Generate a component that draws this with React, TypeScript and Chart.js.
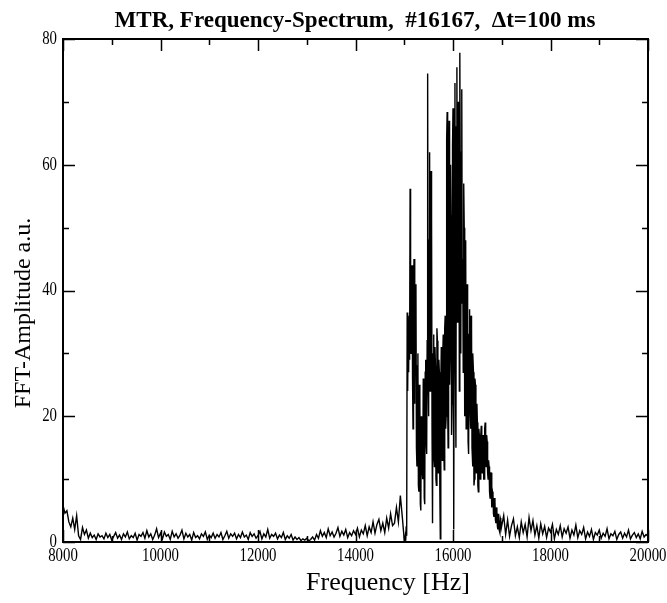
import React, { useEffect, useRef } from "react";
import { Chart, registerables } from "chart.js";

Chart.register(...registerables);

// ---- data ----
const titleText = "MTR, Frequency-Spectrum,  #16167,  \u0394t=100 ms";
const xTitle = "Frequency [Hz]";
const yTitle = "FFT-Amplitude a.u.";

const xMin = 8000;
const xMax = 20000;
const yMin = 0;
const yMax = 80;
const xTickStep = 1000;
const xLabelStep = 2000;
const yTickStep = 10;
const yLabelStep = 20;

// background, 8000 .. 14960 Hz, every 40 Hz
const lowStartHz = 8000;
const lowStepHz = 40;
const ampLow = [
  5.8, 4.6, 5.0, 3.2, 2.4, 3.8, 2.0, 4.2, 1.0, 0.4,
  2.3, 1.2, 1.9, 0.6, 1.4, 0.7, 1.1, 0.4, 1.3, 0.8,
  1.0, 0.5, 1.4, 0.7, 1.2, 0.3, 0.9, 1.5, 0.6, 1.1,
  0.4, 1.3, 0.8, 1.6, 0.5, 1.0, 0.7, 1.4, 0.3, 1.2,
  0.9, 1.5, 0.6, 1.8, 0.8, 1.3, 0.4, 1.1, 2.1, 0.7,
  1.4, 0.5, 1.6, 0.9, 1.2, 0.4, 1.7, 0.8, 1.3, 0.6,
  1.1, 1.9, 0.5, 1.4, 0.8, 1.2, 0.3, 1.5, 0.7, 1.0,
  0.5, 1.3, 0.9, 1.6, 0.4, 1.1, 0.7, 1.4, 0.6, 1.2,
  0.8, 1.5, 0.4, 1.0, 1.7, 0.6, 1.3, 0.9, 1.4, 0.5,
  1.2, 0.7, 1.6, 0.8, 1.1, 0.4, 1.5, 0.9, 1.3, 0.6,
  1.0, 1.7, 0.5, 1.3, 0.8, 2.0, 0.6, 1.2, 0.9, 1.4,
  0.5, 1.1, 0.7, 1.5, 0.4, 1.0, 0.6, 1.2, 0.3, 0.8,
  0.4, 0.7, 0.2, 0.5, 0.3, 0.6, 0.2, 0.4, 0.8, 0.3,
  1.2, 0.6, 1.8, 0.9, 1.5, 0.7, 2.1, 1.0, 1.6, 0.8,
  1.4, 2.3, 0.9, 1.7, 1.1, 2.0, 0.7, 1.5, 1.0, 1.8,
  1.2, 2.2, 0.8, 1.9, 1.3, 2.6, 1.0, 2.4, 1.5, 3.2,
  1.4, 2.8, 3.6, 1.8, 3.0, 1.5, 3.8, 2.2, 4.5, 2.6,
  3.0, 5.5, 3.2, 7.4, 4.0,
];

// main mode, 15000 .. 16990 Hz, every 10 Hz
const peakStartHz = 15000;
const peakStepHz = 10;
const ampPeak = [
  0.3, 0.1, 0.8, 0.2, 2.5, 1.0, 36.5, 24, 33, 27,
  36, 29, 56.2, 35, 30, 42, 44, 26, 18, 38,
  45, 22, 25, 41, 40, 15, 12, 28, 30, 9,
  8, 25, 22, 6, 5, 20, 19, 11, 10, 26,
  24, 7, 6, 27, 29, 16, 14, 32, 74.5, 26,
  20, 48, 62, 24, 28, 59, 52, 18, 3, 30,
  33, 14, 12, 31, 28, 10, 9, 34, 32, 16,
  11, 29, 27, 8, 0.5, 25, 31, 19, 13, 30,
  33, 15, 11.5, 34, 36, 18, 20, 64, 68.4, 22,
  15, 55, 67, 25, 30, 60, 52, 17, 22, 63,
  69, 20, 2, 58, 73, 28, 15, 66, 75.5, 35,
  40, 70, 66, 24, 77.8, 55, 30, 62, 72, 38,
  45, 27, 57, 50, 20, 44, 48, 18, 22, 41,
  35, 16, 14, 33, 37, 21, 18, 36, 34, 15,
  12, 30, 27, 9, 10, 26, 25, 13, 11, 22,
  19, 9, 8, 18, 17, 11, 10, 17, 18.5, 12,
  11, 16, 17, 10, 10, 18, 19, 13, 12, 17,
  16, 11, 10, 13, 12, 8, 7, 11, 11, 6,
  5.5, 8, 7.5, 4.5, 4, 7, 6.5, 3.5, 3, 5.5,
  5, 2.5, 2, 4.5, 4.5, 1.8, 1.5, 3.8, 3.5, 2.2,
];

// tail, 17000 .. 20000 Hz, every 40 Hz
const tailStartHz = 17000;
const tailStepHz = 40;
const ampTail = [
  2.2, 4.2, 1.2, 3.5, 0.9, 2.6, 3.7, 1.0, 2.4, 0.7,
  3.2, 1.5, 2.8, 0.8, 3.9, 1.8, 3.4, 1.1, 2.6, 0.6,
  2.9, 1.3, 2.5, 0.7, 2.2, 1.6, 2.8, 0.5, 2.0, 1.2,
  2.6, 0.8, 2.1, 1.4, 2.4, 0.6, 1.9, 1.1, 2.7, 0.7,
  1.8, 1.2, 2.3, 0.5, 1.6, 0.9, 2.0, 0.4, 1.5, 1.1,
  1.9, 0.6, 1.4, 0.9, 2.1, 0.5, 1.3, 1.0, 1.7, 0.4,
  1.2, 1.6, 0.6, 1.4, 0.8, 1.9, 0.5, 1.1, 1.5, 0.7,
  1.3, 0.5, 1.7, 0.8, 1.2, 0.9,
];

const W = 667;
const H = 603;
const SERIF = '"Liberation Serif", "Times New Roman", serif';

function toPoints(start: number, step: number, vals: number[]) {
  return vals.map((v, i) => ({ x: start + i * step, y: v }));
}

function narrowText(ctx: any, text: string, x: number, y: number, sx: number) {
  ctx.save();
  ctx.translate(x, y);
  ctx.scale(sx, 1);
  ctx.fillText(text, 0, 0);
  ctx.restore();
}

const framePlugin = {
  id: "frameTicks",
  afterDatasetsDraw(chart: any) {
    const { ctx, chartArea } = chart;
    const { left, right, top, bottom } = chartArea;
    const xs = chart.scales.x;
    const ys = chart.scales.y;
    ctx.save();
    ctx.strokeStyle = "#000";
    ctx.lineWidth = 1.5;
    ctx.beginPath();
    for (let v = xMin; v <= xMax; v += xTickStep) {
      const px = Math.round(xs.getPixelForValue(v)) + 0.5;
      const len = (v - xMin) % xLabelStep === 0 ? 12 : 6;
      ctx.moveTo(px, bottom);
      ctx.lineTo(px, bottom - len);
      ctx.moveTo(px, top);
      ctx.lineTo(px, top + len);
    }
    for (let v = yMin; v <= yMax; v += yTickStep) {
      const py = Math.round(ys.getPixelForValue(v)) + 0.5;
      const len = v % yLabelStep === 0 ? 12 : 6;
      ctx.moveTo(left, py);
      ctx.lineTo(left + len, py);
      ctx.moveTo(right, py);
      ctx.lineTo(right - len, py);
    }
    ctx.stroke();
    ctx.lineWidth = 2;
    ctx.strokeRect(left, top, right - left, bottom - top);
    ctx.restore();
  },
  afterDraw(chart: any) {
    const { ctx, chartArea } = chart;
    const xs = chart.scales.x;
    const ys = chart.scales.y;
    ctx.save();
    ctx.fillStyle = "#000";
    // tick labels
    ctx.font = `19px ${SERIF}`;
    ctx.textAlign = "center";
    ctx.textBaseline = "top";
    for (let v = xMin; v <= xMax; v += xLabelStep) {
      narrowText(ctx, String(v), xs.getPixelForValue(v), chartArea.bottom + 5, 0.78);
    }
    ctx.textAlign = "right";
    ctx.textBaseline = "middle";
    for (let v = yMin; v <= yMax; v += yLabelStep) {
      narrowText(ctx, String(v), chartArea.left - 6, ys.getPixelForValue(v), 0.78);
    }
    // titles
    ctx.textAlign = "center";
    ctx.textBaseline = "alphabetic";
    ctx.font = `bold 24px ${SERIF}`;
    narrowText(ctx, titleText, 355, 27, 0.96);
    ctx.font = `26px ${SERIF}`;
    ctx.fillText(xTitle, 388, 590);
    ctx.translate(30, 313);
    ctx.rotate(-Math.PI / 2);
    ctx.font = `24px ${SERIF}`;
    ctx.fillText(yTitle, 0, 0);
    ctx.restore();
  },
};

export default function App() {
  const ref = useRef<HTMLCanvasElement | null>(null);
  useEffect(() => {
    document.body.style.margin = "0";
    const canvas = ref.current;
    if (!canvas) return;
    const data = [
      ...toPoints(lowStartHz, lowStepHz, ampLow),
      ...toPoints(peakStartHz, peakStepHz, ampPeak),
      ...toPoints(tailStartHz, tailStepHz, ampTail),
    ];
    const chart = new Chart(canvas, {
      type: "line",
      data: {
        datasets: [
          {
            data,
            borderColor: "#000",
            borderWidth: 1.4,
            pointRadius: 0,
            tension: 0,
            fill: false,
          },
        ],
      },
      options: {
        animation: false,
        responsive: false,
        maintainAspectRatio: false,
        parsing: false as any,
        normalized: true,
        layout: { padding: { top: 39, right: 19, left: 0, bottom: 0 } },
        plugins: {
          legend: { display: false },
          title: { display: false },
          tooltip: { enabled: false },
        },
        scales: {
          x: {
            type: "linear",
            min: xMin,
            max: xMax,
            grid: { display: false },
            border: { display: false },
            ticks: { display: false, stepSize: xTickStep },
            afterFit: (s: any) => {
              s.height = 61;
            },
          },
          y: {
            type: "linear",
            min: yMin,
            max: yMax,
            grid: { display: false },
            border: { display: false },
            ticks: { display: false, stepSize: yTickStep },
            afterFit: (s: any) => {
              s.width = 63;
            },
          },
        },
      },
      plugins: [framePlugin],
    });
    return () => chart.destroy();
  }, []);
  return (
    <div style={{ width: W, height: H, background: "#fff" }}>
      <canvas ref={ref} width={W} height={H} style={{ display: "block", width: W, height: H }} />
    </div>
  );
}
